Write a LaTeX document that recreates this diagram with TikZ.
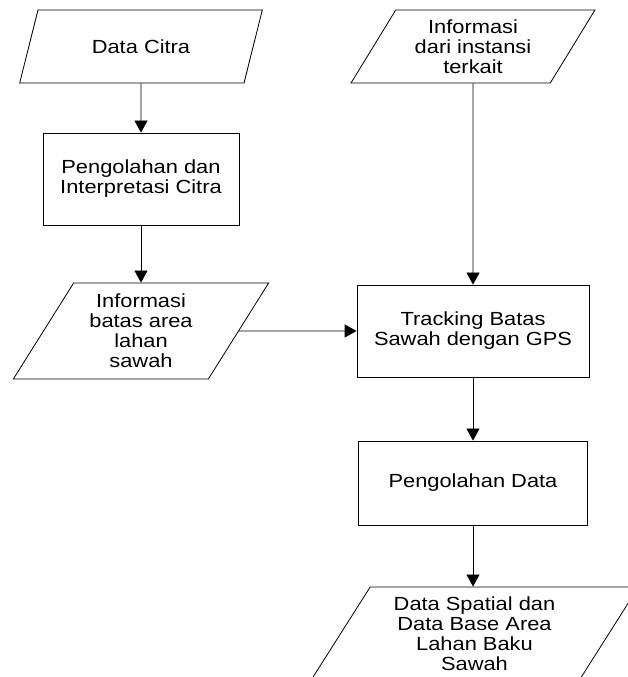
\documentclass[tikz,border=0pt]{standalone}
\usepackage{fontspec}
\setmainfont{Liberation Sans}[FakeStretch=1.15]
\usetikzlibrary{shapes.geometric,arrows.meta}
\begin{document}
\begin{tikzpicture}
	[x=1pt, y=1pt, every node/.style={draw, align=center, inner sep=0pt, line width=0.8pt,
	font=\fontsize{19}{20}\selectfont},
	proses/.style={rectangle},
	masukan/.style={trapezium, trapezium left angle=58, trapezium right angle=122, trapezium stretches=true},
	alur/.style={draw, line width=0.8pt, -{Triangle[length=12pt, width=13pt]}}]
	\useasboundingbox (0,0) rectangle (628,677);
	\clip (0,0) rectangle (628,677);
	\node[masukan, minimum width=243, minimum height=73] (citra) at (141,630.5) {Data Citra};
	\node[proses, minimum width=196, minimum height=92] (olah) at (141,498) {Pengolahan dan \\ Interpretasi Citra};
	\node[masukan, minimum width=256, minimum height=96] (batas) at (141,346) {Informasi \\ batas area \\ lahan \\ sawah};
	\node[masukan, minimum width=244, minimum height=73] (instansi) at (473,630.5) {Informasi \\ dari instansi \\ terkait};
	\node[proses, minimum width=232, minimum height=92] (tracking) at (473,346) {Tracking Batas \\ Sawah dengan GPS};
	\node[proses, minimum width=229, minimum height=84] (olahdata) at (473,194) {Pengolahan Data};
	\node[masukan, minimum width=328, minimum height=94] (hasil) at (474.5,43) {Data Spatial dan \\ Data Base Area \\ Lahan Baku \\ Sawah};
	\draw[alur] (citra) -- (olah);
	\draw[alur] (olah) -- (batas);
	\draw[alur] (batas) -- (tracking);
	\draw[alur] (instansi) -- (tracking);
	\draw[alur] (tracking) -- (olahdata);
	\draw[alur] (olahdata) -- (olahdata |- hasil.north);
\end{tikzpicture}
\end{document}
